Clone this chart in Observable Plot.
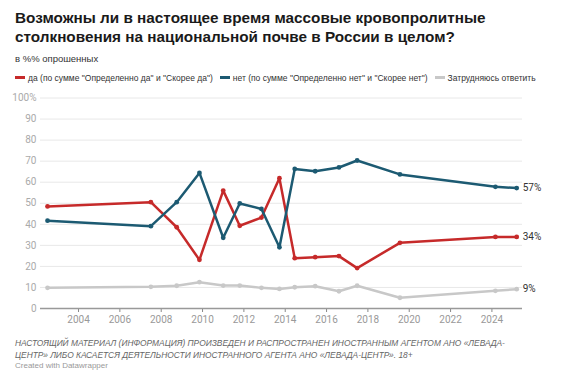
<!DOCTYPE html>
<html>
<head>
<meta charset="utf-8">
<script src="https://cdn.jsdelivr.net/npm/d3@7"></script>
<script src="https://cdn.jsdelivr.net/npm/@observablehq/plot@0.6"></script>
<style>
  html, body { margin: 0; padding: 0; background: #fff; width: 566px; height: 371px; overflow: hidden; }
  body { font-family: "Liberation Sans", Arial, sans-serif; position: relative; }
  #title { position: absolute; left: 15px; top: 8px; font-weight: 700; font-size: 15.3px; line-height: 19px; color: #1a1a1a; white-space: nowrap; }
  #sub { position: absolute; left: 15px; top: 53px; font-size: 9.5px; color: #333; }
  #legend { position: absolute; left: 15px; top: 73px; font-size: 8.5px; color: #333; white-space: nowrap; }
  .item { display: inline-block; margin-right: 7px; }
  .sw { display: inline-block; width: 10px; height: 3px; vertical-align: middle; margin-right: 3px; position: relative; top: -1px; }
  #chart { position: absolute; left: 0; top: 88px; }
  #caption { position: absolute; left: 15px; top: 337px; font-size: 8.4px; line-height: 12px; font-style: italic; color: #666; white-space: nowrap; }
  #credit { position: absolute; left: 15px; top: 361px; font-size: 8px; color: #999; }
</style>
</head>
<body>
<div id="title">Возможны ли в настоящее время массовые кровопролитные<br>столкновения на национальной почве в России в целом?</div>
<div id="sub">в %% опрошенных</div>
<div id="legend"></div>
<div id="chart"></div>
<div id="caption">НАСТОЯЩИЙ МАТЕРИАЛ (ИНФОРМАЦИЯ) ПРОИЗВЕДЕН И РАСПРОСТРАНЕН ИНОСТРАННЫМ АГЕНТОМ АНО «ЛЕВАДА-<br>ЦЕНТР» ЛИБО КАСАЕТСЯ ДЕЯТЕЛЬНОСТИ ИНОСТРАННОГО АГЕНТА АНО «ЛЕВАДА-ЦЕНТР». 18+</div>
<div id="credit">Created with Datawrapper</div>
<script>
const years = [2002.5, 2007.5, 2008.75, 2009.85, 2011.0, 2011.8, 2012.85, 2013.72, 2014.46, 2015.45, 2016.6, 2017.48, 2019.55, 2024.17, 2025.2];
const yesValues = [48.5, 50.5, 38.6, 23.1, 56.0, 39.3, 43.2, 61.9, 23.9, 24.4, 24.9, 19.2, 31.2, 34.0, 34.0];
const noValues  = [41.7, 39.1, 50.5, 64.4, 33.6, 49.9, 47.3, 29.1, 66.3, 65.2, 67.0, 70.3, 63.7, 57.8, 57.2];
const dkValues  = [9.8, 10.3, 10.8, 12.5, 10.9, 10.9, 9.8, 9.3, 10.1, 10.6, 8.2, 10.8, 5.1, 8.4, 9.2];
const seriesNames = ["да (по сумме \"Определенно да\" и \"Скорее да\")", "нет (по сумме \"Определенно нет\" и \"Скорее нет\")", "Затрудняюсь ответить"];
const seriesColors = ["#c62a2a", "#1c5a72", "#c8c8c8"];
const endLabels = ["34%", "57%", "9%"];
const xTicks = [2004, 2006, 2008, 2010, 2012, 2014, 2016, 2018, 2020, 2022, 2024];
const yTicks = [0, 10, 20, 30, 40, 50, 60, 70, 80, 90, 100];

const allValues = [yesValues, noValues, dkValues];
const data = [];
allValues.forEach((vals, s) => vals.forEach((v, i) => data.push({year: years[i], value: v, series: seriesNames[s]})));
const last = allValues.map((vals, s) => ({year: years[years.length - 1], value: vals[vals.length - 1], series: seriesNames[s], label: endLabels[s]}));

// legend
const leg = document.getElementById("legend");
seriesNames.forEach((n, i) => {
  const it = document.createElement("span");
  it.className = "item";
  it.innerHTML = `<span class="sw" style="background:${seriesColors[i]}"></span>`;
  it.appendChild(document.createTextNode(n));
  leg.appendChild(it);
});

const color = {domain: seriesNames, range: seriesColors};
const order = [2, 0, 1];
const chart = Plot.plot({
  width: 566,
  height: 242,
  marginLeft: 40,
  marginRight: 44,
  marginTop: 9.5,
  marginBottom: 22,
  style: {fontFamily: "Roboto, sans-serif", fontSize: "10px", color: "#aaa", background: "#fff"},
  x: {domain: [2002.16, 2025.48]},
  y: {domain: [0, 100]},
  color,
  marks: [
    Plot.gridY(yTicks.filter(d => d > 0), {stroke: "#e8e8e8", strokeOpacity: 1, strokeWidth: 1}),
    Plot.axisY(yTicks, {tickSize: 0, tickPadding: 4, tickFormat: d => d === 100 ? "100%" : String(d), fill: "#aaa", label: null}),
    Plot.axisX(xTicks, {tickSize: 4, tickPadding: 3, tickFormat: d => String(d), stroke: "#888", fill: "#999", label: null}),
    Plot.ruleY([0], {stroke: "#999", strokeWidth: 1.5}),
    ...order.map(s => Plot.line(data.filter(d => d.series === seriesNames[s]), {x: "year", y: "value", stroke: "series", strokeWidth: 2.5, curve: "linear"})),
    ...order.map(s => Plot.dot(data.filter(d => d.series === seriesNames[s]), {x: "year", y: "value", fill: "series", r: 2.4})),
    Plot.text(last, {x: "year", y: "value", text: "label", dx: 6, textAnchor: "start", fill: "#333", fontSize: 10})
  ]
});
document.getElementById("chart").appendChild(chart);
</script>
</body>
</html>
